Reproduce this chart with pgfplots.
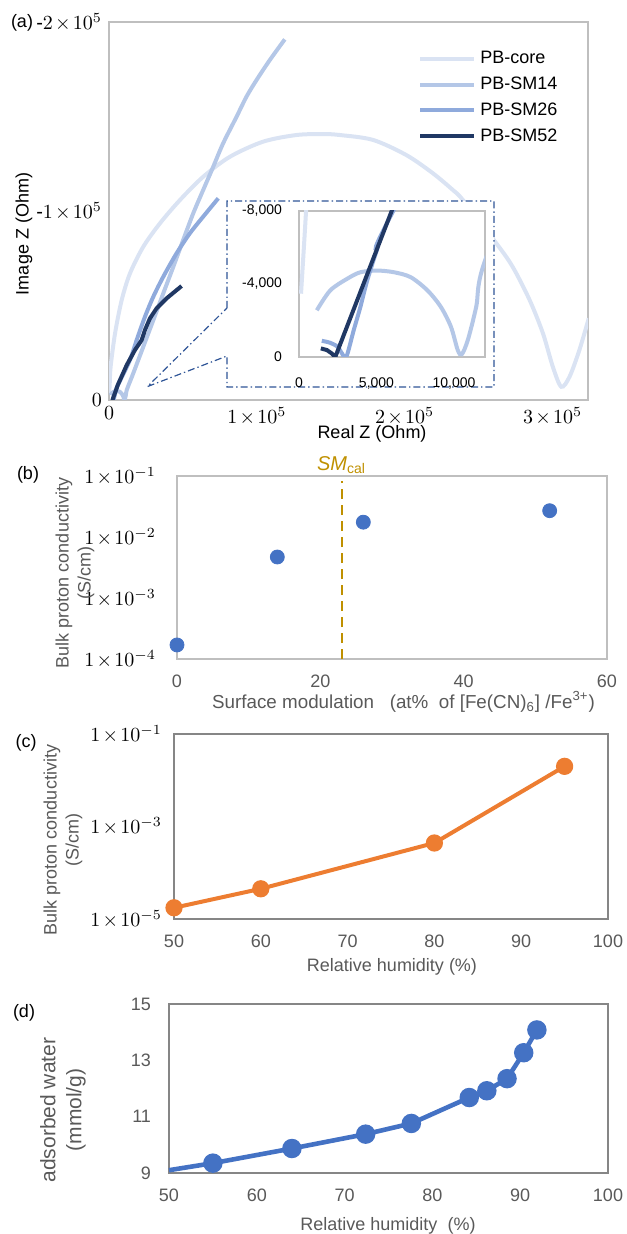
\documentclass[border=0pt]{standalone}
\usepackage{fontspec}
\setmainfont{Liberation Sans}
\usepackage{pgfplots}
\usepackage{pgfplotstable}
\pgfplotsset{compat=1.18}

\definecolor{core}{HTML}{DAE3F3}
\definecolor{smA}{HTML}{B4C7E7}
\definecolor{smB}{HTML}{8FAADC}
\definecolor{smC}{HTML}{203864}
\definecolor{xlblue}{HTML}{4472C4}
\definecolor{xlorange}{HTML}{ED7D31}
\definecolor{xlgold}{HTML}{BF9000}
\definecolor{txtgray}{HTML}{595959}
\definecolor{boxlight}{HTML}{BFBFBF}
\definecolor{boxdark}{HTML}{868686}
\definecolor{dashblue}{HTML}{2F5597}

% Nyquist data, Z in Ohm (plotted as -Z'' upwards)
\pgfplotstableread{
x y
130 3470
455 8000
1100 17600
4100 35300
8600 52900
14200 67000
23200 81100
34500 93500
48000 105800
63700 118100
81800 128700
104300 136700
126800 140200
144800 140700
156100 140200
178600 137600
201100 129600
219000 120000
232600 111100
239400 105800
262000 82900
273000 70500
284500 52900
293500 35300
300200 17600
305900 7000
311500 12300
318200 26500
324500 43200
}\tblcore

\pgfplotstableread{
x y
1150 2560
2013 3646
3097 4281
3961 4644
5045 4735
6126 4644
7208 4372
8292 3646
9156 2738
9805 1650
10240 381
10500 150
10890 925
11430 2738
12078 5460
16400 14100
23200 28200
30000 42300
36700 56400
43500 70500
50200 84700
57000 98800
63700 111100
70500 123400
77200 135800
86300 149900
93000 160500
99800 169300
108800 179900
118900 190800
}\tblsmA

\pgfplotstableread{
x y
1470 887
2013 778
2490 560
2770 200
3050 0
3530 1470
3960 2740
4400 4190
5045 5910
5690 7360
14200 21200
18700 31700
24300 44000
30000 54700
36700 65200
45700 77600
54700 88200
63700 97000
73900 106700
}\tblsmB

\pgfplotstableread{
x y
1410 470
1800 380
2120 190
2340 0
6020 8090
12000 18500
17600 26500
22100 31700
24300 37000
27700 43200
32200 48500
39000 53800
49100 60300
}\tblsmC

\pgfplotstableread{
x y
0 1.7e-4
14 4.7e-3
26 1.75e-2
52 2.7e-2
}\tblsm

\pgfplotstableread{
x y
50 1.75e-5
60 4.5e-5
80 4.4e-4
95 2.0e-2
}\tblrh

\pgfplotstableread{
x y
50 9.1
55 9.35
64 9.87
72.4 10.38
77.6 10.76
84.2 11.68
86.2 11.92
88.5 12.35
90.4 13.27
91.9 14.08
}\tblwater

\pgfplotsset{
  xl/.style={scale only axis, anchor=north west,
    major tick length=0pt, minor tick length=0pt,
    yminorticks=false, xminorticks=false,
    scaled ticks=false,
    axis line style={line width=1pt},
    tick label style={font=\fontsize{9}{10}\selectfont}},
}
\newcommand{\lbl}{\fontsize{9}{11}\selectfont}
\newcommand{\tms}{\mskip2mu\mathord{\times}\mskip2mu}

\begin{document}
\begin{tikzpicture}
\path[use as bounding box] (0pt,0pt) rectangle (313pt,-617pt);

% ---------- (a) ----------
\begin{axis}[xl, at={(54.5pt,-11pt)}, width=239.5pt, height=189pt,
  xmin=0, xmax=324000, ymin=0, ymax=200000,
  xtick={0,100000,200000,300000},
  xticklabels={$0$,$1\tms10^{5}$,$2\tms10^{5}$,$3\tms10^{5}$},
  ytick={0,100000,200000},
  yticklabels={$0$,$\mbox{-}1\tms10^{5}$,$\mbox{-}2\tms10^{5}$},
  tick label style={font=\fontsize{10}{11}\selectfont},
  axis line style={boxlight},
  legend style={at={(0.645,0.935)}, anchor=north west, draw=none, fill=none,
    inner sep=0pt, row sep=1.2pt, font=\lbl, legend cell align=left},
  legend image code/.code={\draw[#1] (0pt,0pt) -- (27pt,0pt);},
]
\addplot[core, line width=2pt, smooth, tension=0.5] table {\tblcore};
\addlegendentry{PB-core}
\addplot[smA, line width=2pt, smooth, tension=0.5] table {\tblsmA};
\addlegendentry{PB-SM14}
\addplot[smB, line width=2pt, smooth, tension=0.5] table {\tblsmB};
\addlegendentry{PB-SM26}
\addplot[smC, line width=2pt] table {\tblsmC};
\addlegendentry{PB-SM52}
\end{axis}

\fill[white] (113.5pt,-100.5pt) rectangle (247pt,-193.5pt);
\draw[dashblue, line width=0.6pt, dash pattern=on 3.5pt off 1.5pt on 0.7pt off 1.5pt]
  (113.5pt,-154pt) -- (113.5pt,-100.5pt) -- (247pt,-100.5pt) -- (247pt,-193.5pt)
  -- (113.5pt,-193.5pt) -- (113.5pt,-178pt) -- (73.7pt,-193.3pt) -- cycle;

\begin{axis}[xl, at={(149.5pt,-105.5pt)}, width=93pt, height=73pt,
  xmin=0, xmax=12000, ymin=0, ymax=8000,
  xtick={0,5000,10000}, xticklabels={{0},{5,000},{10,000}},
  ytick={0,4000,8000}, yticklabels={{0},{-4,000},{-8,000}},
  axis line style={boxlight},
  tick label style={font=\fontsize{7}{8}\selectfont},
  xticklabel shift=7pt, yticklabel shift=5pt,
]
\addplot[core, line width=2pt, smooth, tension=0.5] table {\tblcore};
\addplot[smA, line width=2pt, smooth, tension=0.5] table {\tblsmA};
\addplot[smB, line width=2pt, smooth, tension=0.5] table {\tblsmB};
\addplot[smC, line width=2pt] table {\tblsmC};
\end{axis}

\node[font=\lbl] at (11pt,-11.5pt) {(a)};
\node[font=\lbl, rotate=90] at (12pt,-117pt) {Image Z (Ohm)};
\node[font=\lbl] at (186pt,-217pt) {Real Z (Ohm)};

% ---------- (b) ----------
\begin{axis}[xl, at={(88.5pt,-238pt)}, width=215pt, height=91.5pt,
  xmin=0, xmax=60, ymode=log, ymin=1e-4, ymax=1e-1,
  xtick={0,20,40,60}, xticklabels={0,20,40,60},
  ytick={1e-4,1e-3,1e-2,1e-1},
  yticklabels={$1\tms10^{-4}$,$1\tms10^{-3}$,$1\tms10^{-2}$,$1\tms10^{-1}$},
  y tick label style={font=\fontsize{10}{11}\selectfont},
  x tick label style={text=txtgray},
  xticklabel shift=4.5pt, yticklabel shift=7pt,
  axis line style={boxlight}, clip=false,
]
\addplot[xlgold, line width=1.3pt, dash pattern=on 5pt off 3pt] coordinates {(23,1e-4) (23,0.0837)};
\addplot[only marks, mark=*, mark size=3.5pt, xlblue] table {\tblsm};
\end{axis}
\node[font=\fontsize{10}{11}\selectfont, text=xlgold] at (170.75pt,-232.5pt) {\textit{SM}\textsubscript{cal}};
\node[font=\lbl] at (14pt,-237.5pt) {(b)};
\node[font=\lbl, rotate=90, align=center, text=txtgray] at (37.5pt,-286.5pt) {Bulk proton conductivity\\(S/cm)};
\node[font=\fontsize{9.4}{11}\selectfont, text=txtgray] at (201.75pt,-351pt) {Surface modulation\ \ \ (at\%\ \ of [Fe(CN)\textsubscript{6}] /Fe\textsuperscript{3+})};

% ---------- (c) ----------
\begin{axis}[xl, at={(87pt,-367pt)}, width=217pt, height=92.5pt,
  xmin=50, xmax=100, ymode=log, ymin=1e-5, ymax=1e-1,
  xtick={50,60,70,80,90,100}, xticklabels={50,60,70,80,90,100},
  ytick={1e-5,1e-3,1e-1},
  yticklabels={$1\tms10^{-5}$,$1\tms10^{-3}$,$1\tms10^{-1}$},
  y tick label style={font=\fontsize{10}{11}\selectfont},
  x tick label style={text=txtgray},
  xticklabel shift=4.5pt, yticklabel shift=2.5pt,
  axis line style={boxdark}, clip=false,
]
\addplot[xlorange, line width=2pt, mark=*, mark size=3.3pt] table {\tblrh};
\end{axis}
\node[font=\lbl] at (13pt,-371.5pt) {(c)};
\node[font=\lbl, rotate=90, align=center, text=txtgray] at (31.5pt,-420pt) {Bulk proton conductivity\\(S/cm)};
\node[font=\lbl, text=txtgray] at (196pt,-483.5pt) {Relative humidity (\%)};

% ---------- (d) ----------
\begin{axis}[xl, at={(84.5pt,-502pt)}, width=219.5pt, height=84.5pt,
  xmin=50, xmax=100, ymin=9, ymax=15,
  xtick={50,60,70,80,90,100}, xticklabels={50,60,70,80,90,100},
  ytick={9,11,13,15}, yticklabels={9,11,13,15},
  tick label style={text=txtgray},
  xticklabel shift=4.5pt, yticklabel shift=5.5pt,
  axis line style={boxdark}, clip=false,
]
\addplot[xlblue, line width=2.3pt, mark=*, mark size=3.7pt,
  mark indices={2,3,4,5,6,7,8,9,10}] table {\tblwater};
\end{axis}
\node[font=\lbl] at (12pt,-506.5pt) {(d)};
\node[font=\fontsize{10.5}{13}\selectfont, rotate=90, align=center, text=txtgray] at (31.5pt,-555pt) {adsorbed water\\(mmol/g)};
\node[font=\lbl, text=txtgray] at (194pt,-613pt) {Relative humidity\ \ (\%)};
\end{tikzpicture}
\end{document}
